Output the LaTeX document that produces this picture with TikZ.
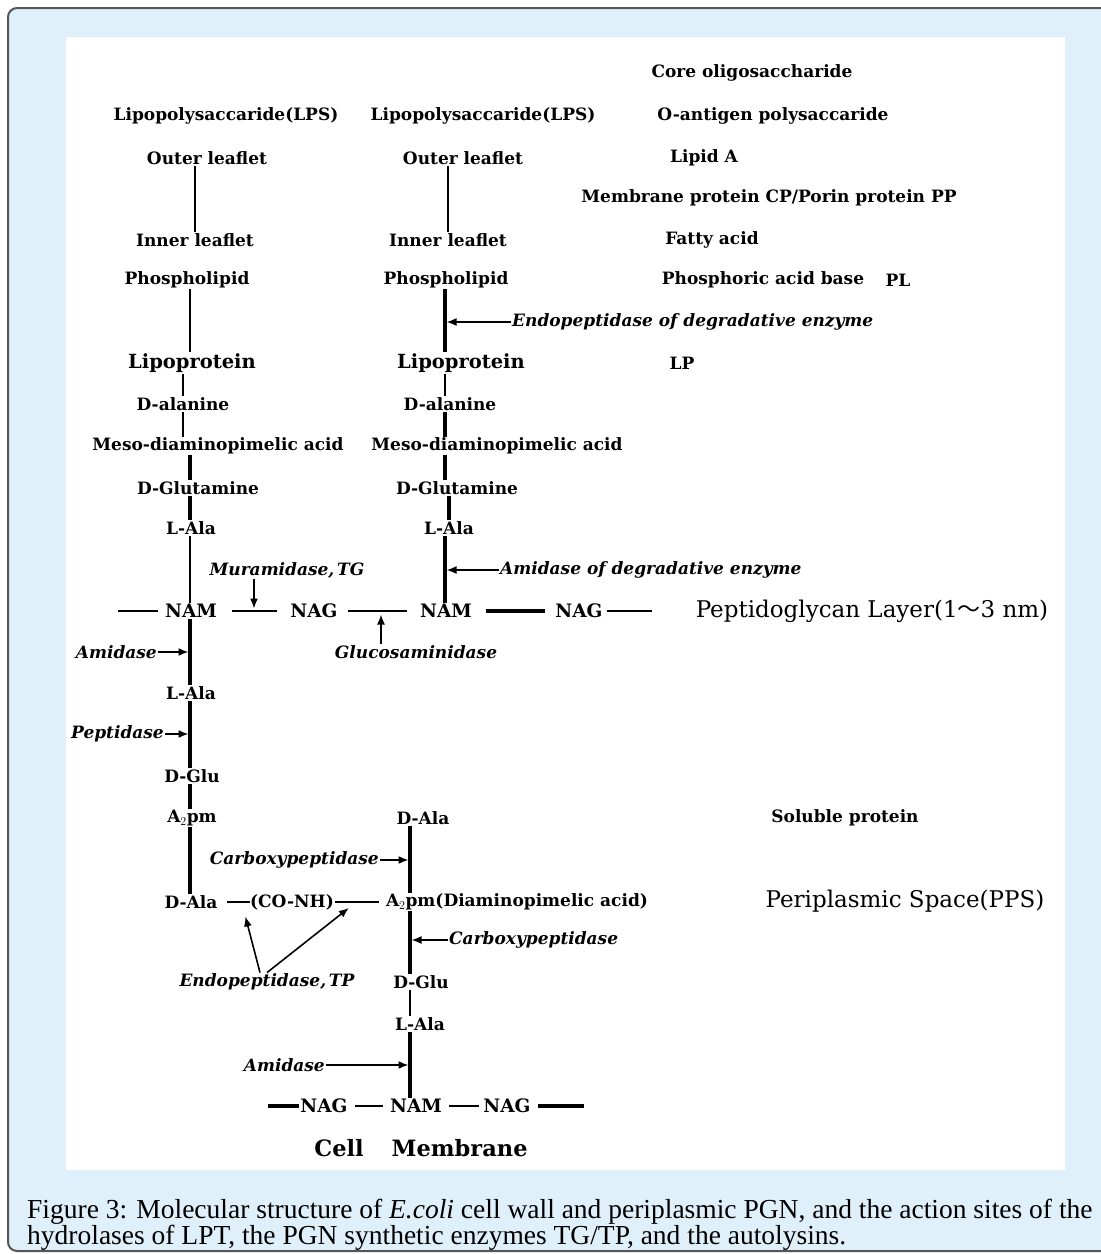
\documentclass[tikz,border=0pt]{standalone}
\usepackage{fontspec}
\usepackage{xcolor}
\usetikzlibrary{arrows.meta}
\setmainfont{DejaVu Serif}
\newfontfamily\capfont{Liberation Serif}
\newfontfamily\cjk{Noto Sans CJK JP}
\definecolor{paleblue}{HTML}{DFF0FB}
\definecolor{framegray}{HTML}{555555}
\newcommand{\Apm}{A$_2$pm}

\begin{document}
\begin{tikzpicture}[x=1pt,y=-1pt,
    lbl/.style={font=\fontsize{17}{19}\selectfont\bfseries, inner sep=1pt},
    sugar/.style={font=\fontsize{18.5}{20}\selectfont\bfseries, inner sep=1pt},
    enz/.style={font=\fontsize{17}{19}\selectfont\bfseries\itshape, inner sep=1pt},
    big/.style={font=\fontsize{23}{25}\selectfont, inner sep=1pt},
    bond/.style={line width=1.6pt},
    heavy/.style={line width=3.6pt},
    hit/.style={-{Latex[length=10pt,width=8pt]}, line width=1.6pt, shorten >=1.5pt}]
     \useasboundingbox (0,0) rectangle (1101,1254);
     \clip (0,0) rectangle (1101,1254);
     \draw[fill=paleblue, draw=framegray, line width=2pt, rounded corners=9pt] (8,8) rectangle (1130,1251);
     \fill[white] (66,37) rectangle (1065,1170);
     % stems
     \coordinate (c1) at (190,0);
     \coordinate (c2) at (445,0);
     \coordinate (c3) at (410,0);
     % outer membrane, left and right
     \node[lbl] (lps1) at (226,116) {Lipopolysaccaride(LPS)};
     \node[lbl] (out1) at (207,158) {Outer leaflet};
     \node[lbl] (inn1) at (195,240) {Inner leaflet};
     \node[lbl] (pho1) at (187,280) {Phospholipid};
     \node[lbl, font=\fontsize{19.5}{21}\selectfont\bfseries] (lip1) at (192,363) {Lipoprotein};
     \node[lbl] (dal1) at (183,404) {D-alanine};
     \node[lbl] (mes1) at (218,446) {Meso-diaminopimelic acid};
     \node[lbl] (dgt1) at (198,488) {D-Glutamine};
     \node[lbl] (la1) at (191,528) {L-Ala};
     \node[lbl] (lps2) at (483,116) {Lipopolysaccaride(LPS)};
     \node[lbl] (out2) at (463,158) {Outer leaflet};
     \node[lbl] (inn2) at (448,240) {Inner leaflet};
     \node[lbl] (pho2) at (446,280) {Phospholipid};
     \node[lbl, font=\fontsize{19.5}{21}\selectfont\bfseries] (lip2) at (461,363) {Lipoprotein};
     \node[lbl] (dal2) at (450,404) {D-alanine};
     \node[lbl] (mes2) at (497,446) {Meso-diaminopimelic acid};
     \node[lbl] (dgt2) at (457,488) {D-Glutamine};
     \node[lbl] (la4) at (449,528) {L-Ala};
     % legend on the right
     \node[lbl] (core) at (752,73) {Core oligosaccharide};
     \node[lbl] (oant) at (773,116) {O-antigen polysaccaride};
     \node[lbl] (lipa) at (704,158) {Lipid A};
     \node[lbl] (memp) at (769,198) {Membrane protein CP/Porin protein PP};
     \node[lbl] (fat) at (712,240) {Fatty acid};
     \node[lbl] (phb) at (763,280) {Phosphoric acid base};
     \node[lbl] (pl) at (898,280) {PL};
     \node[lbl] (lp) at (682,363) {LP};
     \node[lbl] (solp) at (845,818) {Soluble protein};
     \node[big] (pps) at (905,901) {Periplasmic Space(PPS)};
     \node[big] (pgl) at (872,611) {Peptidoglycan Layer(1{\cjk ～}3 nm)};
     % glycan strand
     \node[sugar] (nam1) at (191,611) {NAM};
     \node[sugar] (nag1) at (314,611) {NAG};
     \node[sugar] (nam2) at (446,611) {NAM};
     \node[sugar] (nag2) at (579,611) {NAG};
     \coordinate (g0) at (118,611);
     \coordinate (g5) at (652,611);
     \coordinate (tg) at (254,610);
     \coordinate (gl) at (381,613);
     % periplasmic PGN
     \node[lbl] (la2) at (191,693) {L-Ala};
     \node[lbl] (dglu1) at (192,776) {D-Glu};
     \node[lbl] (apm1) at (192,818) {\Apm};
     \node[lbl] (dala1) at (191,902) {D-Ala};
     \node[lbl] (conh) at (292,902) {(CO-NH)};
     \node[lbl] (apm2) at (517,902) {\Apm(Diaminopimelic acid)};
     \node[lbl] (dala2) at (423,818) {D-Ala};
     \node[lbl] (dglu2) at (421,982) {D-Glu};
     \node[lbl] (la3) at (420,1024) {L-Ala};
     \node[sugar] (nag3) at (324,1106) {NAG};
     \node[sugar] (nam3) at (416,1106) {NAM};
     \node[sugar] (nag4) at (507,1106) {NAG};
     \node[big, font=\fontsize{22.5}{25}\selectfont\bfseries] (cm) at (421,1148) {Cell\hspace{28pt}Membrane};
     \coordinate (b0) at (268,1106);
     \coordinate (b5) at (584,1106);
     \coordinate (e1) at (245,915);
     \coordinate (e2) at (350,907);
     % enzymes
     \node[enz, anchor=west] (endo1) at (511,322) {Endopeptidase of degradative enzyme};
     \node[enz, anchor=west] (amid1) at (499,570) {Amidase of degradative enzyme};
     \node[enz] (mur) at (287,570) {Muramidase,\,TG};
     \node[enz] (glc) at (416,652) {Glucosaminidase};
     \node[enz, anchor=east] (amd2) at (158,652) {Amidase};
     \node[enz, anchor=east] (pep) at (165,734) {Peptidase};
     \node[enz, anchor=east] (carb1) at (380,860) {Carboxypeptidase};
     \node[enz, anchor=west] (carb2) at (448,940) {Carboxypeptidase};
     \node[enz] (endo2) at (267,982) {Endopeptidase,\,TP};
     \node[enz, anchor=east] (amd3) at (326,1065) {Amidase};
     % bonds
     \draw[bond] (out1.south -| inn1) -- (inn1.north);
     \draw[bond] (pho1.south -| c1) -- (lip1.north -| c1);
     \draw[bond] (lip1.south -| dal1) -- (dal1.north);
     \draw[bond] (dal1.south -| dal1) -- (mes1.north -| dal1);
     \draw[heavy] (mes1.south -| c1) -- (dgt1.north -| c1);
     \draw[heavy] (dgt1.south -| c1) -- (la1.north -| c1);
     \draw[bond] (la1.south -| c1) -- (nam1.north -| c1);
     \draw[bond] (out2.south -| inn2) -- (inn2.north);
     \draw[heavy] (pho2.south -| c2) -- (lip2.north -| c2);
     \draw[bond] (lip2.south -| c2) -- (dal2.north -| c2);
     \draw[heavy] (dal2.south -| c2) -- (mes2.north -| c2);
     \draw[heavy] (mes2.south -| c2) -- (dgt2.north -| c2);
     \draw[heavy] (dgt2.south -| la4) -- (la4.north);
     \draw[heavy] (la4.south -| c2) -- (nam2.north -| c2);
     \draw[bond, shorten >=6pt] (g0) -- (nam1.west);
     \draw[bond, shorten <=14pt, shorten >=12pt] (nam1.east) -- (nag1.west);
     \draw[bond, shorten <=9pt, shorten >=12pt] (nag1.east) -- (nam2.west);
     \draw[heavy, shorten <=13pt, shorten >=9pt] (nam2.east) -- (nag2.west);
     \draw[bond, shorten <=3pt] (nag2.east) -- (g5);
     \draw[heavy] (nam1.south -| c1) -- (la2.north -| c1);
     \draw[heavy] (la2.south -| c1) -- (dglu1.north -| c1);
     \draw[heavy] (dglu1.south -| c1) -- (apm1.north -| c1);
     \draw[heavy] (apm1.south -| c1) -- (dala1.north -| c1);
     \draw[bond, shorten <=8pt, shorten >=-1pt] (dala1.east) -- (conh.west);
     \draw[bond, shorten >=6pt] (conh.east) -- (apm2.west);
     \draw[heavy] (dala2.south -| c3) -- (apm2.north -| c3);
     \draw[heavy] (apm2.south -| c3) -- (dglu2.north -| c3);
     \draw[bond] (dglu2.south -| c3) -- (la3.north -| c3);
     \draw[heavy] (la3.south -| c3) -- (nam3.north -| c3);
     \draw[heavy] (b0) -- (nag3.west);
     \draw[bond, shorten <=6pt, shorten >=6pt] (nag3.east) -- (nam3.west);
     \draw[bond, shorten <=6pt, shorten >=3pt] (nam3.east) -- (nag4.west);
     \draw[heavy, shorten <=6pt] (nag4.east) -- (b5);
     % action sites
     \draw[hit] (endo1.west) -- (endo1.west -| c2);
     \draw[hit] (amid1.west) -- (amid1.west -| c2);
     \draw[hit] (mur.south -| tg) -- (tg);
     \draw[hit] (glc.north -| gl) -- (gl);
     \draw[hit] (amd2.east) -- (amd2.east -| c1);
     \draw[hit] (pep.east) -- (pep.east -| c1);
     \draw[hit] (carb1.east) -- (carb1.east -| c3);
     \draw[hit] (carb2.west) -- (carb2.west -| c3);
     \draw[hit] ([xshift=-7pt]endo2.north) -- (e1);
     \draw[hit] (endo2.north) -- (e2);
     \draw[hit] (amd3.east) -- (amd3.east -| c3);
     % caption
     \node[anchor=north west, inner sep=0pt, align=left, font=\capfont\fontsize{27.5}{26}\selectfont] (cap) at (27,1199)
     {Figure 3: Molecular structure of \textit{E.coli} cell wall and periplasmic PGN, and the action sites of the\\
      hydrolases of LPT, the PGN synthetic enzymes TG/TP, and the autolysins.};
   \end{tikzpicture}
\end{document}
